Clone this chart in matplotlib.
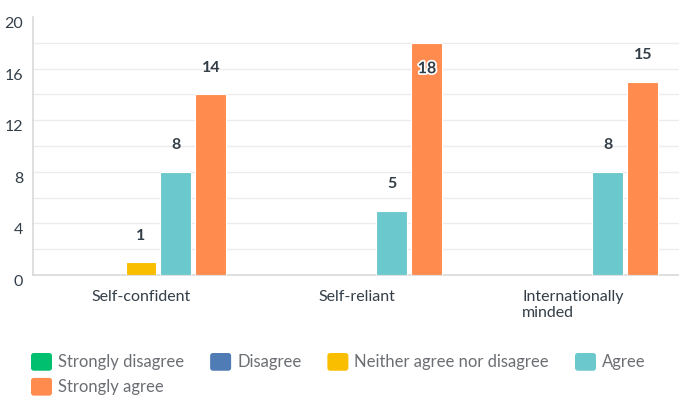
import matplotlib
matplotlib.use("Agg")
import matplotlib.pyplot as plt
import matplotlib.patheffects as pe
from matplotlib.patches import Patch, FancyBboxPatch
from matplotlib.legend_handler import HandlerPatch
import numpy as np

plt.rcParams['font.family'] = ['Lato', 'DejaVu Sans']

categories = ['Self-confident', 'Self-reliant', 'Internationally\nminded']
series_names = ['Strongly disagree', 'Disagree', 'Neither agree nor disagree',
                'Agree', 'Strongly agree']
strongly_disagree = [0, 0, 0]
disagree = [0, 0, 0]
neither = [1, 0, 0]
agree = [8, 5, 8]
strongly_agree = [14, 18, 15]
colors = ['#00bf6f', '#507cb6', '#f9be00', '#6bc8cd', '#ff8b4f']
yticks = [0, 4, 8, 12, 16, 20]

series = [strongly_disagree, disagree, neither, agree, strongly_agree]
text_col = '#333e48'

fig = plt.figure(figsize=(6.79, 3.96), dpi=100)
ax = fig.add_axes([33 / 679, 121 / 396, 648 / 679, 258 / 396])

x = np.arange(len(categories))
slot = 0.162
width = 0.1435
for i, (vals, col) in enumerate(zip(series, colors)):
    pos = x + (i - 2) * slot
    lw = [0.8 if v > 0 else 0 for v in vals]
    ax.bar(pos, vals, width=width, color=col, edgecolor='#ffffff', linewidth=lw, zorder=3)
    for px, v in zip(pos, vals):
        if v == 0:
            continue
        if v + 2 > 19:
            # no room above, put label inside the bar
            t = ax.annotate(str(v), (px, v), xytext=(0, -19), textcoords='offset points',
                            ha='center', va='center', fontsize=11.5, fontweight='bold',
                            color=text_col, zorder=5)
            t.set_path_effects([pe.withStroke(linewidth=2.5, foreground='white')])
        else:
            ax.annotate(str(v), (px, v), xytext=(0, 19), textcoords='offset points',
                        ha='center', va='center', fontsize=11.5, fontweight='bold',
                        color=text_col, zorder=5)

# gridlines every 2, without one at the very top
for gy in range(2, 20, 2):
    ax.axhline(gy, color='#ececec', linewidth=1.0, zorder=1)

ax.set_xlim(-0.5, 2.5)
ax.set_ylim(0, 20)
ax.set_yticks(yticks)
ax.set_yticklabels([str(v) for v in yticks], fontsize=11.5, color=text_col)
for lab in ax.get_yticklabels():
    lab.set_va('top')
ax.set_xticks(x)
ax.set_xticklabels(categories, fontsize=11.5, color=text_col, multialignment='left')
ax.tick_params(axis='y', length=0, pad=7)
ax.tick_params(axis='x', length=0, pad=11)

for s in ['top', 'right']:
    ax.spines[s].set_visible(False)
ax.spines['left'].set_color('#d6d6d6')
ax.spines['bottom'].set_color('#d6d6d6')
ax.spines['left'].set_linewidth(1.1)
ax.spines['bottom'].set_linewidth(1.1)


def rounded_square(legend, orig_handle, xdescent, ydescent, width, height, fontsize):
    return FancyBboxPatch((-xdescent, -ydescent), width, height,
                          boxstyle='round,pad=0,rounding_size=2')


# matplotlib fills legend columns first, so reorder to get row-wise flow
order = [0, 4, 1, 2, 3]
handles = [Patch(facecolor=colors[k], edgecolor='none') for k in order]
labels = [series_names[k] for k in order]
fs = 12
px_per_fs = fs * 100 / 72
fig.legend(handles, labels, loc='upper left', bbox_to_anchor=(31 / 679, 1 - 353 / 396),
           ncol=4, frameon=False, fontsize=fs, labelcolor='#6b6f73',
           handlelength=21 / px_per_fs, handleheight=21 / px_per_fs,
           handletextpad=6 / px_per_fs, columnspacing=26 / px_per_fs,
           labelspacing=0.43, borderpad=0, borderaxespad=0,
           handler_map={Patch: HandlerPatch(patch_func=rounded_square)})

fig.savefig('out.png', dpi=100)
